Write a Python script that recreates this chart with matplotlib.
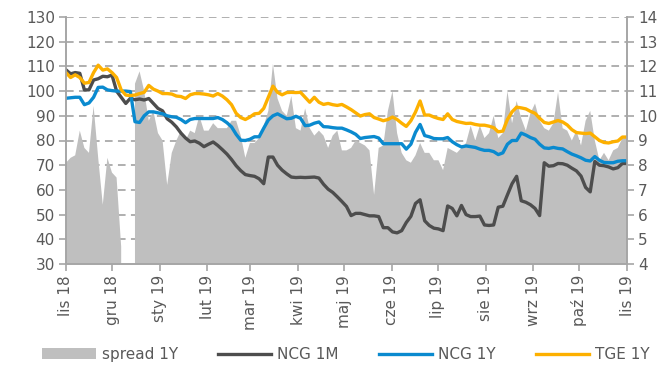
import pandas as pd
import matplotlib
import matplotlib.pyplot as plt
from matplotlib.patches import Patch

matplotlib.use('Agg')

# Daily gas prices sampled every ~3 days, Nov 2018 - Nov 2019
start_date = '2018-11-01'
end_date = '2019-11-01'

ncg_1m = [
    108.6, 107.0, 107.5, 107.2, 100.5, 100.5, 104.5, 105.0, 106.0, 105.8,
    106.5, 100.0, 97.5, 95.0, 97.1, 96.5, 96.8, 96.4, 97.0, 95.0,
    93.0, 92.0, 88.8, 87.4, 85.5, 83.0, 81.0, 79.5, 79.8, 78.9,
    77.5, 78.5, 79.4, 78.0, 76.3, 74.5, 72.3, 69.8, 67.8, 66.2,
    65.8, 65.5, 64.5, 62.5, 73.3, 73.3, 70.0, 68.0, 66.5, 65.2,
    65.0, 65.1, 65.0, 65.1, 65.2, 64.8, 62.3, 60.3, 59.0, 57.2,
    55.3, 53.3, 49.6, 50.5, 50.5, 50.0, 49.5, 49.5, 49.2, 44.7,
    44.7, 43.0, 42.6, 43.5, 46.8, 49.3, 54.5, 56.0, 47.5, 45.6,
    44.5, 44.2, 43.5, 53.5, 52.5, 49.5, 53.7, 50.0, 49.2, 49.2,
    49.4, 45.8, 45.6, 45.8, 53.0, 53.4, 58.0, 62.5, 65.5, 55.6,
    55.0, 54.0, 52.5, 49.6, 71.0, 69.6, 69.8, 70.7, 70.6, 70.0,
    68.8, 67.7, 65.6, 61.0, 59.2, 71.5, 70.0, 69.8, 69.3, 68.5,
    69.0, 70.7, 70.7,
]

ncg_1y = [
    97.1, 97.3, 97.5, 97.5, 94.5, 95.2, 97.5, 101.5, 101.6, 100.5,
    100.2, 100.0, 100.0, 100.0, 99.8, 87.6, 87.3, 90.0, 91.6, 91.6,
    91.2, 90.8, 90.0, 89.6, 89.4, 88.5, 87.2, 88.5, 88.9, 88.9,
    88.9, 88.9, 88.9, 89.3, 88.5, 87.2, 85.5, 82.5, 80.1, 80.0,
    80.5, 81.5, 81.5, 85.0, 88.3, 90.0, 90.8, 89.8, 88.8, 89.0,
    89.8, 89.0, 86.0, 86.2, 87.0, 87.5, 85.6, 85.5, 85.2, 85.0,
    85.0, 84.3, 83.5, 82.5, 80.8, 81.2, 81.4, 81.6, 81.0, 78.7,
    78.7, 78.7, 78.7, 78.7, 76.5, 78.5, 83.3, 86.5, 82.0, 81.5,
    80.8, 80.7, 80.7, 81.2, 79.5, 78.3, 77.4, 77.8, 77.5, 77.2,
    76.5, 76.0, 76.0, 75.5, 74.3, 75.0, 78.5, 80.0, 80.0, 83.0,
    82.2, 81.2, 80.5, 78.5, 77.0, 76.8, 77.2, 76.8, 76.6, 75.5,
    74.5, 73.8, 73.0, 72.0, 71.7, 73.5, 72.0, 71.1, 71.0, 71.0,
    71.6, 71.8, 71.8,
]

tge_1y = [
    107.5, 105.5, 106.6, 105.5, 103.2, 103.5, 107.5, 110.5, 108.5, 109.0,
    107.5, 105.5, 100.5, 98.4, 98.2, 98.4, 99.0, 99.5, 102.3, 100.8,
    100.0, 99.0, 99.0, 98.8, 98.0, 97.8, 97.0, 98.5, 99.0, 99.0,
    98.8, 98.5, 98.0, 99.0, 98.0, 96.5, 94.5, 91.0, 89.3, 88.5,
    89.5, 90.8, 91.0, 93.0, 97.5, 102.0, 99.5, 98.5, 99.4, 99.5,
    99.4, 99.5, 97.5, 95.5, 97.5, 95.5, 94.6, 95.0, 94.5, 94.2,
    94.6, 93.6, 92.5, 91.2, 89.9, 90.5, 90.8, 89.3, 88.7, 88.0,
    88.5, 89.5, 88.5, 87.0, 85.7, 88.0, 91.5, 96.0, 90.3, 90.3,
    89.5, 88.9, 88.5, 90.8, 88.5, 87.7, 87.3, 86.9, 87.0, 86.5,
    86.2, 86.2, 85.8, 85.2, 83.5, 83.8, 88.5, 91.6, 93.5, 93.2,
    92.8, 91.8, 91.0, 89.0, 87.3, 86.9, 87.5, 88.1, 87.5, 86.3,
    84.4, 83.2, 83.0, 82.8, 83.0, 81.5, 80.0, 79.2, 79.0, 79.5,
    79.8, 81.4, 81.4,
]

# spread 1Y is read on the right-hand axis; NaN where no quote
nan = float('nan')
spread_1y = [
    8.1, 8.3, 8.4, 9.4, 8.7, 8.5, 10.4, 8.3, 6.4, 8.3,
    7.7, 7.5, 4.7, nan, nan, 11.3, 11.8, 11.0, 9.8, 10.2,
    9.3, 9.0, 7.2, 8.5, 9.0, 9.4, 9.0, 9.4, 9.3, 10.0,
    9.4, 9.4, 9.7, 9.5, 9.5, 9.5, 9.8, 9.8, 9.2, 8.3,
    8.9, 8.9, 9.1, 9.6, 10.2, 12.1, 10.7, 10.2, 10.0, 10.8,
    9.5, 9.4, 10.3, 9.5, 9.2, 9.4, 9.2, 8.7, 9.2, 9.4,
    8.6, 8.6, 8.7, 9.0, 8.9, 8.8, 8.6, 6.8, 8.7, 8.8,
    10.2, 11.0, 9.3, 8.5, 8.2, 8.1, 8.4, 8.9, 8.5, 8.5,
    8.2, 8.2, 7.8, 8.7, 8.6, 8.5, 8.7, 8.9, 9.6, 9.0,
    9.6, 9.1, 9.3, 10.0, 9.1, 9.3, 11.0, 9.7, 10.6, 9.9,
    9.4, 10.1, 10.5, 9.8, 9.5, 9.4, 9.7, 10.95, 9.5, 9.4,
    9.0, 9.4, 8.8, 9.8, 10.2, 9.0, 8.2, 8.5, 8.2, 8.6,
    8.7, 9.1, 9.1,
]

month_starts = ['2018-11-01', '2018-12-01', '2019-01-01', '2019-02-01',
                '2019-03-01', '2019-04-01', '2019-05-01', '2019-06-01',
                '2019-07-01', '2019-08-01', '2019-09-01', '2019-10-01',
                '2019-11-01']
month_labels = ['lis 18', 'gru 18', 'sty 19', 'lut 19', 'mar 19', 'kwi 19',
                'maj 19', 'cze 19', 'lip 19', 'sie 19', 'wrz 19', 'paź 19',
                'lis 19']

dates = pd.date_range(start_date, end_date, periods=len(tge_1y))

text_color = '#595959'
axis_color = '#A6A6A6'
plt.rcParams['font.family'] = ['DejaVu Sans']

fig = plt.figure(figsize=(6.72, 3.72), dpi=100)
ax = fig.add_axes([66 / 672, 1 - 264 / 372, 561 / 672, 247 / 372])
ax2 = ax.twinx()

# area on the bottom axes so the price lines sit on top of it
ax.fill_between(dates, 0, spread_1y, color='#BFBFBF', lw=0, zorder=2)
ax.set_ylim(4, 14)
ax.set_yticks(range(4, 15))
ax.yaxis.tick_right()

# dashed horizontal guides, hidden behind the spread area
for level in range(5, 15):
    ax.axhline(level, color='#9A9A9A', linestyle=(0, (5, 3.5)), lw=1.1,
               zorder=1)

ax2.plot(dates, ncg_1m, color='#4D4D4D', lw=2.4, label='NCG 1M')
ax2.plot(dates, ncg_1y, color='#0A8ACF', lw=2.4, label='NCG 1Y')
ax2.plot(dates, tge_1y, color='#FDB000', lw=2.4, label='TGE 1Y')
ax2.set_ylim(30, 130)
ax2.set_yticks(range(30, 131, 10))
ax2.yaxis.tick_left()

ax.set_xlim(dates[0], dates[-1])
ax.set_xticks(pd.to_datetime(month_starts))
ax.set_xticklabels(month_labels, rotation=90)

for a in (ax, ax2):
    a.spines['top'].set_visible(False)
    for side in ('left', 'right', 'bottom'):
        a.spines[side].set_color(axis_color)
        a.spines[side].set_linewidth(1.2)
    a.tick_params(length=5, width=1.2, color=axis_color,
                  labelcolor=text_color, labelsize=11, pad=3)

handles = [Patch(facecolor='#BFBFBF', label='spread 1Y')] + ax2.get_lines()
fig.legend(handles=handles, loc='lower center', bbox_to_anchor=(0.515, -0.01),
           ncol=4, frameon=False, fontsize=11, handlelength=3.5,
           handletextpad=0.4, columnspacing=2.6, labelcolor=text_color)

fig.savefig('out.png', dpi=100)
